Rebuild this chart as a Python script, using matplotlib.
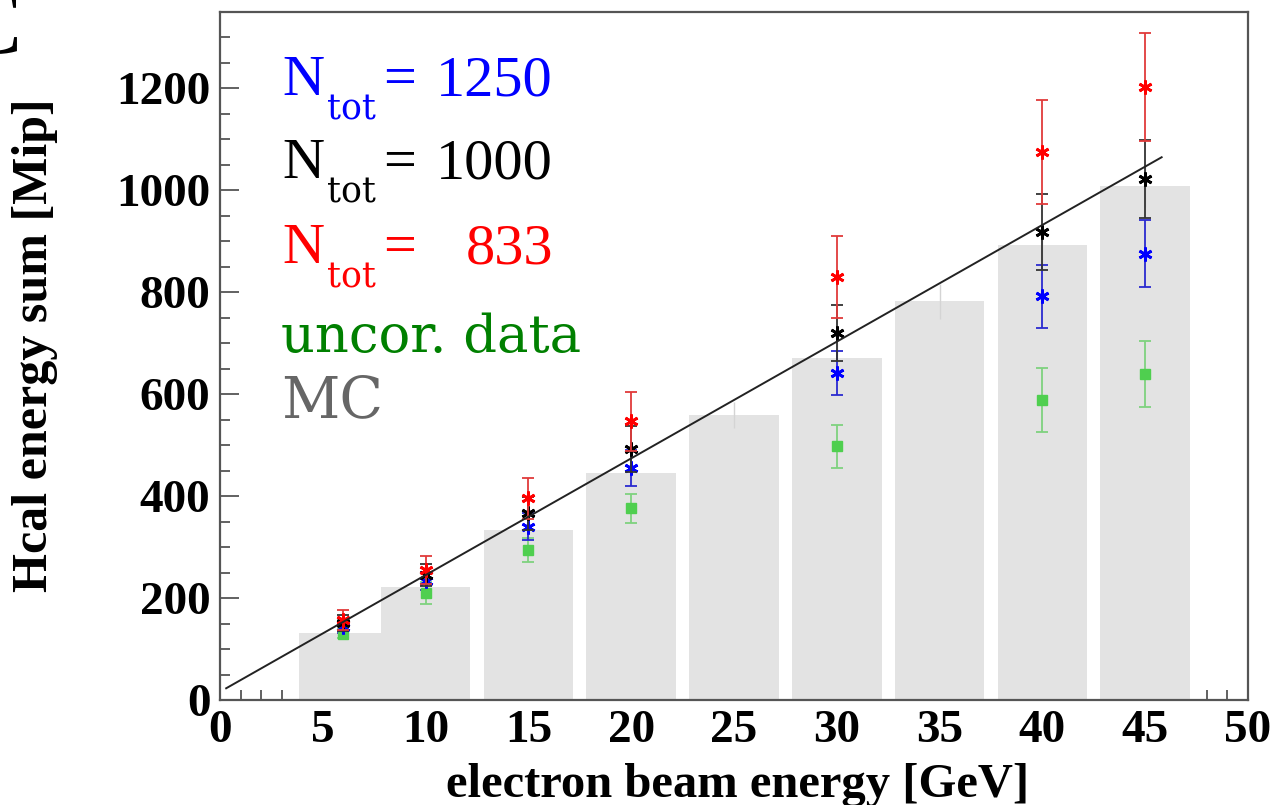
import numpy as np
import matplotlib
matplotlib.use("Agg")
import matplotlib.pyplot as plt
from matplotlib.ticker import MultipleLocator

# beam energies of the data points [GeV]
energy = [6, 10, 15, 20, 30, 40, 45]

# corrected data for three N_tot values, plus uncorrected data
ntot_1250 = [143, 233, 340, 455, 641, 792, 876]
ntot_1250_err = [12, 18, 26, 35, 43, 62, 66]
ntot_1000 = [151, 245, 366, 492, 720, 918, 1022]
ntot_1000_err = [15, 22, 32, 45, 55, 75, 77]
ntot_833 = [157, 255, 396, 547, 830, 1076, 1202]
ntot_833_err = [20, 28, 40, 58, 81, 102, 106]
uncor = [130, 210, 294, 376, 498, 588, 639]
uncor_err = [9, 22, 23, 29, 42, 63, 65]

# Monte Carlo expectation (grey bars)
mc_energy = [6, 10, 15, 20, 25, 30, 35, 40, 45]
mc_sum = [131, 222, 333, 445, 559, 671, 782, 892, 1009]
mc_err = [10, 14, 18, 22, 25, 30, 35, 38, 42]

# straight line fit, end points
fit_x = [0.3, 45.8]
fit_y = [23, 1065]

W, H = 1282, 805


def px(x, y):
    # pixel position (from top left) -> figure fraction
    return x / W, 1 - y / H


fig = plt.figure(figsize=(W / 100, H / 100), dpi=100)
ax = fig.add_axes([220 / W, 105 / H, 1028 / W, 688 / H])

# MC histogram, later bars overlap earlier ones
for e, v in zip(mc_energy, mc_sum):
    ax.bar(e, v, width=4.36, color="#e3e3e3", edgecolor="none", zorder=1)
ax.errorbar(mc_energy, mc_sum, yerr=mc_err, fmt="none", ecolor="#d4d4d4",
            elinewidth=1, capsize=0, zorder=1.1)

star = (6, 2, 0)
ax.errorbar(energy, uncor, yerr=uncor_err, fmt="s", color="#4fcf4f",
            ecolor="#7fd27f", ms=7, elinewidth=1.3, capsize=4, capthick=1.3, zorder=3)
ax.errorbar(energy, ntot_1250, yerr=ntot_1250_err, fmt="none", ecolor="#2a2ad0",
            elinewidth=1.3, capsize=4, capthick=1.3, zorder=3)
ax.plot(energy, ntot_1250, ls="none", marker=star, ms=10, mew=2, color="#0000ff", zorder=3.1)
ax.errorbar(energy, ntot_1000, yerr=ntot_1000_err, fmt="none", ecolor="#333333",
            elinewidth=1.3, capsize=4, capthick=1.3, zorder=3.2)
ax.plot(energy, ntot_1000, ls="none", marker=star, ms=10, mew=2, color="black", zorder=3.3)
ax.errorbar(energy, ntot_833, yerr=ntot_833_err, fmt="none", ecolor="#e03a3a",
            elinewidth=1.3, capsize=4, capthick=1.3, zorder=3.4)
ax.plot(energy, ntot_833, ls="none", marker=star, ms=10, mew=2, color="#ff0000", zorder=3.5)

ax.plot(fit_x, fit_y, color="#222222", lw=1.4, zorder=4)

ax.set_xlim(0, 50)
ax.set_ylim(0, 1350)
ax.set_axisbelow(True)
ax.xaxis.set_major_locator(MultipleLocator(5))
ax.xaxis.set_minor_locator(MultipleLocator(1))
ax.yaxis.set_major_locator(MultipleLocator(200))
ax.yaxis.set_minor_locator(MultipleLocator(50))
ax.tick_params(which="both", direction="in", top=False, right=False,
               color="#555555", width=1.3)
ax.tick_params(which="major", length=14, pad=7)
ax.tick_params(which="minor", length=7)
for lab in ax.get_xticklabels() + ax.get_yticklabels():
    lab.set_fontfamily("Liberation Serif")
    lab.set_fontweight("bold")
    lab.set_fontsize(34)
for sp in ax.spines.values():
    sp.set_color("#555555")
    sp.set_linewidth(1.6)

ax.set_xlabel("electron beam energy [GeV]", fontfamily="Liberation Serif",
              fontweight="bold", fontsize=35)
ax.set_ylabel("Hcal energy sum [Mip]", fontfamily="Liberation Serif",
              fontweight="bold", fontsize=36)
ax.xaxis.set_label_coords(0.503, -0.092)
ax.yaxis.set_label_coords(-0.158, 0.515)

# legend made of coloured text lines
big = dict(fontfamily="Liberation Serif", fontsize=42, va="baseline")
sub = dict(fontfamily="DejaVu Serif", fontsize=25, va="baseline")
txt = dict(fontfamily="DejaVu Serif", fontsize=38, va="baseline", ha="left")
rows = [("1250", "#0000ff", 95), ("1000", "black", 178), ("833", "#ff0000", 263)]
for val, col, base in rows:
    fig.text(*px(282, base), "N", color=col, ha="left", **big)
    fig.text(*px(327, base + 24), "tot", color=col, ha="left", **sub)
    fig.text(*px(383, base), "=", color=col, ha="left", **big)
    fig.text(*px(553, base), val, color=col, ha="right", **big)
fig.text(*px(281, 352), "uncor. data", color="#008000", **txt)
txt["fontsize"] = 41
fig.text(*px(281, 417), "MC", color="#666666", **txt)

# panel letter, cut by the image border
fig.text(*px(21, 53), "C", fontfamily="Liberation Serif", fontsize=66,
         va="baseline", ha="right")

fig.savefig("out.png", dpi=100)
